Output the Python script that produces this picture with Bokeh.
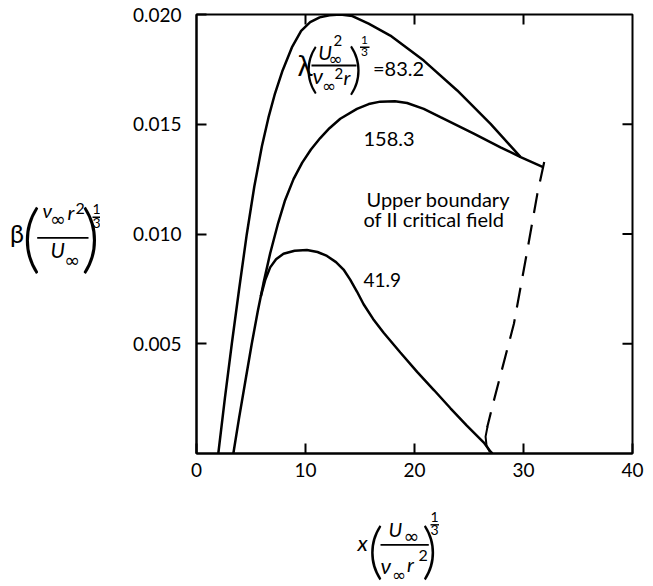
from bokeh.plotting import figure
from bokeh.layouts import row, column
from bokeh.models import Label, FixedTicker, BoxAnnotation, Range1d, NumeralTickFormatter
from bokeh.embed import file_html
from bokeh.resources import INLINE

# ---------------- data ----------------
x_ticks = [0, 10, 20, 30, 40]
y_ticks = [0.005, 0.010, 0.015, 0.020]
top_ticks = [10, 20, 30]
right_ticks = [0.005, 0.010, 0.015]

# lambda(...)^(1/3) = 83.2
lam832_x = [2.0, 2.6, 3.24, 3.9, 4.61, 5.3, 6.0, 6.6, 7.2, 7.9, 8.75, 9.6, 10.43, 11.3,
            12.2, 13.2, 14.3, 15.79, 17.78, 20.85, 23.92, 26.98, 29.74]
lam832_y = [0.0, 0.00250, 0.00500, 0.00745, 0.00998, 0.01215, 0.01400, 0.01530, 0.01640,
            0.01745, 0.01850, 0.01925, 0.01965, 0.01987, 0.01997, 0.02000, 0.01993,
            0.01958, 0.01904, 0.01790, 0.01654, 0.01502, 0.01350]

# = 158.3
lam1583_x = [3.38, 3.9, 4.5, 5.07, 5.63, 6.14, 6.75, 7.49, 8.1, 8.9, 9.7, 10.5, 11.35,
             12.2, 13.19, 14.72, 15.8, 16.86, 18.2, 19.32, 20.85, 22.38, 25.44, 27.89,
             29.74, 31.85]
lam1583_y = [0.0, 0.00160, 0.00335, 0.00500, 0.00650, 0.00775, 0.00910, 0.01050, 0.01150,
             0.01250, 0.01325, 0.01385, 0.01437, 0.01482, 0.01525, 0.01570, 0.01592,
             0.01603, 0.01605, 0.01597, 0.01570, 0.01532, 0.01457, 0.01395, 0.01350,
             0.01304]

# = 41.9
lam419_x = [5.9, 6.3, 6.76, 7.3, 7.98, 9.0, 10.13, 11.1, 11.97, 12.8, 13.49, 14.1, 14.72,
            15.33, 16.2, 17.17, 18.7, 20.24, 21.8, 23.3, 24.8, 26.36, 26.98, 27.15]
lam419_y = [0.00716, 0.00790, 0.00848, 0.00885, 0.00910, 0.00924, 0.00927, 0.00918,
            0.00900, 0.00872, 0.00838, 0.00792, 0.00738, 0.00680, 0.00613, 0.00550,
            0.00460, 0.00372, 0.00288, 0.00206, 0.00127, 0.00050, 0.00008, 0.0]

# upper boundary of II critical field (dashed)
bound_x = [31.9, 31.27, 30.35, 29.12, 27.28, 26.67]
bound_y = [0.01328, 0.01183, 0.00925, 0.00591, 0.00241, 0.00120]
hook_x = [26.7, 26.52, 26.61, 26.89]
hook_y = [0.00123, 0.00077, 0.00036, 0.00009]

# ---------------- layout geometry (canvas pixels) ----------------
FONT = "Lato"
PAREN_FONT = "Lato Light, Lato"
W, H = 653, 586
LEFT_W = 100          # strip holding the y-axis title
MAIN_H = 500          # main plot height; strip below holds the x-axis title
FL, FT, FW, FH = 196, 14, 436, 439   # plot frame on the canvas
X0, X1, Y0, Y1 = 0, 40, 0, 0.020
BASE_FIX = 0.45       # renderer places alphabetic baselines this many em too low


def blank(width, height, xr, yr, bl=0, br=0):
    f = figure(width=width, height=height, x_range=Range1d(*xr), y_range=Range1d(*yr),
               x_axis_type=None, y_axis_type=None, toolbar_location=None,
               output_backend="svg", min_border_left=bl, min_border_right=br,
               min_border_top=0, min_border_bottom=0)
    f.outline_line_color = None
    f.background_fill_color = "white"
    f.border_fill_color = "white"
    f.grid.visible = False
    return f


p = figure(width=W - LEFT_W, height=MAIN_H, output_backend="svg", toolbar_location=None,
           x_range=Range1d(X0, X1), y_range=Range1d(Y0, Y1),
           min_border_left=FL - LEFT_W, min_border_right=W - FL - FW,
           min_border_top=FT, min_border_bottom=MAIN_H - FT - FH)
p.grid.visible = False
p.background_fill_color = "white"
p.border_fill_color = "white"
p.outline_line_color = "black"
p.outline_line_width = 2

xax = p.below[0]
yax = p.left[0]
xax.ticker = FixedTicker(ticks=x_ticks)
yax.ticker = FixedTicker(ticks=y_ticks)
yax.formatter = NumeralTickFormatter(format="0.000")
for ax in (xax, yax):
    ax.major_tick_in = 10
    ax.major_tick_out = 0
    ax.minor_tick_in = 0
    ax.minor_tick_out = 0
    ax.axis_line_width = 2
    ax.axis_line_color = "black"
    ax.major_tick_line_width = 2
    ax.major_tick_line_color = "black"
    ax.major_label_text_font = FONT
    ax.major_label_text_color = "black"
    ax.major_label_text_font_size = "19px"
xax.major_label_standoff = 9
yax.major_label_standoff = 15

# inward ticks on the top and right edges of the frame
tick_dy = 10 / FH * (Y1 - Y0)
tick_dx = 10 / FW * (X1 - X0)
p.segment(x0=top_ticks, y0=[Y1] * len(top_ticks), x1=top_ticks,
          y1=[Y1 - tick_dy] * len(top_ticks), line_color="black", line_width=2)
p.segment(x0=[X1] * len(right_ticks), y0=right_ticks, x1=[X1 - tick_dx] * len(right_ticks),
          y1=right_ticks, line_color="black", line_width=2)

LW = 2.5
p.line(lam832_x, lam832_y, line_color="black", line_width=LW)
p.line(lam1583_x, lam1583_y, line_color="black", line_width=LW)
p.line(lam419_x, lam419_y, line_color="black", line_width=LW)
p.line(bound_x, bound_y, line_color="black", line_width=2.2, line_dash="20 12")
p.line(hook_x, hook_y, line_color="black", line_width=2)

left_fig = blank(LEFT_W, H, (0, LEFT_W), (H, 0))
# bottom strip: its frame is aligned with the main frame, so map canvas pixels FL..FL+FW
bottom_fig = blank(W - LEFT_W, H - MAIN_H, (FL, FL + FW), (H, MAIN_H),
                   bl=FL - LEFT_W, br=W - FL - FW)


# ---------------- text helpers (canvas pixel positions) ----------------
def main_conv(px, py):
    return (X0 + (px - FL) / FW * (X1 - X0), Y0 + (FT + FH - py) / FH * (Y1 - Y0))


def px_conv(px, py):
    return (px, py)


class Writer:
    def __init__(self, fig, conv):
        self.fig, self.conv = fig, conv

    def T(self, px, py, text, size, align="left", style="normal", font=FONT):
        x, y = self.conv(px, py - BASE_FIX * size)
        self.fig.add_layout(Label(x=x, y=y, text=text, text_font=font,
                                  text_font_size=f"{size}px", text_align=align,
                                  text_baseline="alphabetic", text_font_style=style,
                                  text_color="black"))

    def inf(self, cx, cy, size=19):
        self.T(cx, cy + 0.36 * size, "\u221e", size, align="center", font="DejaVu Sans")

    def paren(self, cx, cy, h, ch):
        size = h / 0.98
        self.T(cx, cy + 0.43 * size, ch, round(size), align="center", font=PAREN_FONT)

    def bar(self, px0, px1, py, th=1.8):
        x0, yb = self.conv(px0, py + th / 2)
        x1, yt = self.conv(px1, py - th / 2)
        self.fig.add_layout(BoxAnnotation(left=x0, right=x1, bottom=yb, top=yt,
                                          fill_color="black", fill_alpha=1,
                                          line_color=None))

    def third(self, cx, ytop_base, ybar, ybot_base, x0, x1, size=13):
        self.T(cx, ytop_base, "1", size, align="center")
        self.bar(x0, x1, ybar, 1.4)
        self.T(cx, ybot_base, "3", size, align="center")


m = Writer(p, main_conv)
# curve labels
m.T(363, 147, "158.3", 20)
m.T(363, 288.3, "41.9", 19)
m.T(372.5, 76.7, "=83.2", 20)
m.T(366, 207, "Upper boundary", 20)
m.T(363, 227, "of II critical field", 20)

# lambda (U^2 / nu^2 r)^(1/3)
m.T(297, 77, "\u03bb", 28)
m.paren(311, 66.7, 53, "(")
m.T(317.7, 60, "U", 20, style="italic")
m.T(333, 46.7, "2", 15)
m.inf(335.2, 60, 17)
m.bar(311, 356, 65)
m.T(312, 85, "\u03bd", 22, style="italic")
m.inf(328.5, 87.5, 17)
m.T(334, 80, "2", 15)
m.T(343, 85, "r", 20, style="italic")
m.paren(355, 67.5, 55, ")")
m.third(364, 45, 46.8, 56.5, 359.5, 369, 12)

# y axis title: beta (nu r^2 / U)^(1/3)
yl = Writer(left_fig, px_conv)
yl.T(9.5, 244, "\u03b2", 25)
yl.paren(30.8, 236.5, 73, "(")
yl.T(42, 218, "\u03bd", 20, style="italic")
yl.inf(57.5, 220)
yl.T(67, 220, "r", 20, style="italic")
yl.T(75, 215, "2", 16)
yl.bar(36.7, 88, 237.3)
yl.T(50, 258.3, "U", 21, style="italic")
yl.inf(71.7, 261.7)
yl.paren(90, 236.5, 73, ")")
yl.third(96, 215, 216.8, 228.5, 92, 100, 14)

# x axis title: x (U / nu r^2)^(1/3)  (kept just inside the bottom edge)
xl = Writer(bottom_fig, px_conv)
xl.T(357, 552, "x", 22, style="italic")
xl.paren(375, 549, 60, "(")
xl.T(388, 537.5, "U", 20, style="italic")
xl.inf(410.8, 537)
xl.bar(380, 428.3, 544.3)
xl.T(380, 575, "\u03bd", 22, style="italic")
xl.inf(398.5, 576.5, 17)
xl.T(406.5, 572, "r", 20, style="italic")
xl.T(418, 562, "2", 16)
xl.paren(429, 549, 60, ")")
xl.third(434, 522.5, 524.3, 536, 430, 438.5, 14)

layout = row(left_fig, column(p, bottom_fig, spacing=0), spacing=0)
open("out.html", "w").write(file_html(layout, INLINE))
